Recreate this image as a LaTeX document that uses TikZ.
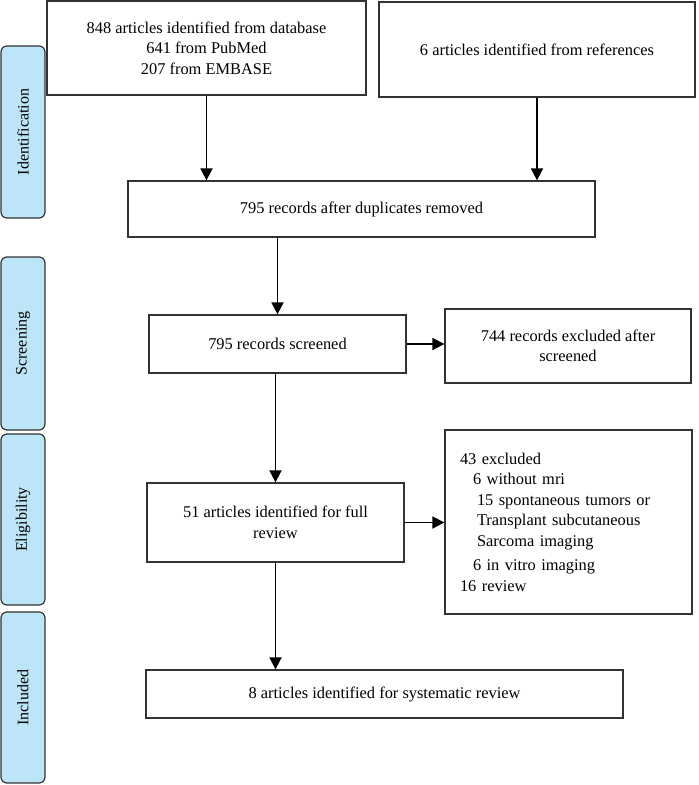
\documentclass[tikz,border=0pt]{standalone}
\usepackage{fontspec}
\setmainfont{Liberation Serif}
\usepackage{tikz}
\usetikzlibrary{arrows.meta}
\definecolor{stageblue}{HTML}{BDE5F8}
\definecolor{linegray}{HTML}{333333}
\tikzstyle{box}=[draw=linegray, line width=1.3pt, align=center, inner sep=0pt, font=\fontsize{16.4}{20.5}\selectfont]
\tikzstyle{stage}=[draw=linegray, fill=stageblue, line width=1.2pt, rounded corners=6pt, rotate=90, minimum height=44pt, inner sep=0pt, font=\fontsize{16}{19}\selectfont]
\tikzstyle{arrow}=[draw=black, line width=1.8pt, ->, >={Triangle[length=12pt, width=12pt]}]

\begin{document}
\begin{tikzpicture}[x=1pt, y=-1pt]
		   \useasboundingbox (0, 0) rectangle (699, 785);
		   \begin{scope}
			   \node (ident) at (23, 132)[stage, minimum width=172pt] {Identification};
			   \node (screen) at (23, 343.5)[stage, minimum width=173pt] {Screening};
			   \node (elig) at (23, 519.5)[stage, minimum width=171pt] {Eligibility};
			   \node (incl) at (23, 697.5)[stage, minimum width=171pt] {Included};
		   \end{scope}
		   \begin{scope}
			   \node (dbase) at (206.5, 48)[box, minimum width=319pt, minimum height=94pt] {848 articles identified from database\\641 from PubMed\\207 from EMBASE};
			   \node (refs) at (537, 49.5)[box, minimum width=316pt, minimum height=95pt] {6 articles identified from references};

			   \node (dedup) at (361.5, 209)[box, minimum width=467pt, minimum height=56pt] {795 records after duplicates removed};

			   \node (screened) at (277.5, 344)[box, minimum width=257pt, minimum height=58pt] {795 records screened};
			   \node (exclA) at (568, 346)[box, minimum width=246pt, minimum height=74pt] {744 records excluded after\\screened};

			   \node (full) at (275.5, 522.5)[box, minimum width=257pt, minimum height=79pt] {51 articles identified for full\\review};
			   \node (exclB) at (568.5, 522)[box, align=left, text width=217pt, minimum width=247pt, minimum height=184pt] {43 excluded\\
				   \hspace*{13pt}6 without mri\\
				   \hspace*{17pt}15 spontaneous tumors or\\
				   \hspace*{17pt}Transplant subcutaneous\\
				   \hspace*{17pt}Sarcoma imaging\\[4pt]
				   \hspace*{13pt}6 in vitro imaging\\
				   16 review};

			   \node (final) at (384.5, 694)[box, minimum width=477pt, minimum height=48pt] {8 articles identified for systematic review};
		   \end{scope}
		   \begin{scope}
			   \draw [arrow] (dbase.south) -- (dbase.south |- dedup.north);
			   \draw [arrow] (refs.south) -- (refs.south |- dedup.north);
			   \draw [arrow] (screened.north |- dedup.south) -- (screened.north);
			   \draw [arrow] (screened.east) -- (screened.east -| exclA.west);
			   \draw [arrow] (full.north |- screened.south) -- (full.north);
			   \draw [arrow] (full.east) -- (full.east -| exclB.west);
			   \draw [arrow] (full.south) -- (full.south |- final.north);
		   \end{scope}
	   \end{tikzpicture}
\end{document}
